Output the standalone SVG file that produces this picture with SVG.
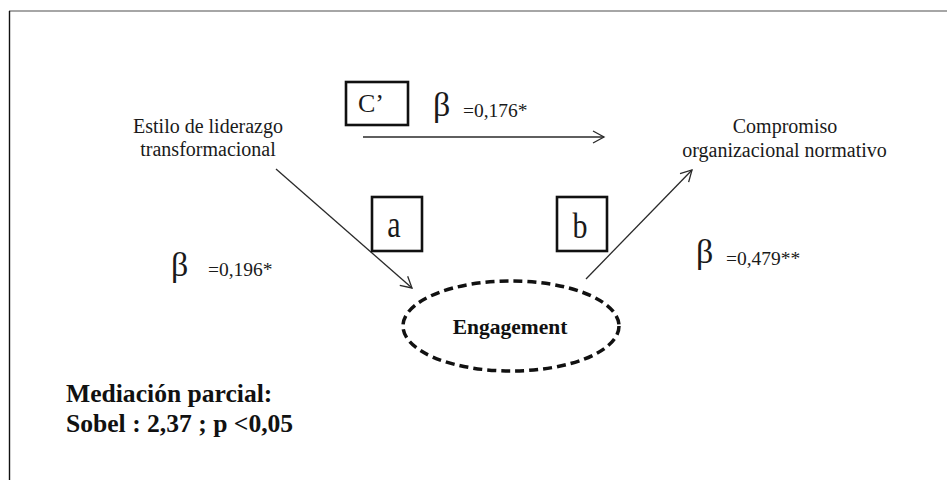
<svg xmlns="http://www.w3.org/2000/svg" width="947" height="480" viewBox="0 0 947 480">
<style>
.lbl{font-family:"Liberation Serif","Times New Roman",serif;fill:#1a1a1a;font-size:20px}
.bold{font-family:"Liberation Serif","Times New Roman",serif;font-weight:bold;fill:#111}
.beta{font-family:"Liberation Serif","Times New Roman",serif;font-size:34px;fill:#1a1a1a}
.val{font-family:"Liberation Serif","Times New Roman",serif;font-size:19.5px;fill:#1a1a1a}
.box{fill:none;stroke:#111;stroke-width:2.6}
.conn{fill:none;stroke:#2a2a2a;stroke-width:1.3}
.boxtxt{font-family:"Liberation Serif","Times New Roman",serif;fill:#1a1a1a;text-anchor:middle}
</style>
<defs>
<marker id="arr" viewBox="-13 -8 15 16" refX="0" refY="0" markerWidth="15" markerHeight="16" markerUnits="userSpaceOnUse" orient="auto">
<path d="M-11,-6 L0,0 L-11,6" fill="none" stroke="#2a2a2a" stroke-width="1.3"/>
</marker>
</defs>
<rect x="0" y="0" width="947" height="480" fill="#fff"/>
<g id="frame">
<line x1="9" y1="11" x2="947" y2="11" stroke="#888" stroke-width="1.6"/>
<line x1="9.5" y1="11" x2="9.5" y2="480" stroke="#111" stroke-width="1.4"/>
</g>
<g id="connectors">
<path class="conn" d="M363,137 L604,137" marker-end="url(#arr)"/>
<path class="conn" d="M276,169 L412,288" marker-end="url(#arr)"/>
<path class="conn" d="M586,279 L692,170" marker-end="url(#arr)"/>
</g>
<g id="node-estilo">
<text class="lbl" x="208" y="133" text-anchor="middle">Estilo de liderazgo</text>
<text class="lbl" x="208" y="156" text-anchor="middle">transformacional</text>
</g>
<g id="node-compromiso">
<text class="lbl" x="785" y="133" text-anchor="middle">Compromiso</text>
<text class="lbl" x="784.5" y="157" text-anchor="middle">organizacional normativo</text>
</g>
<g id="node-engagement">
<ellipse cx="511" cy="326" rx="108" ry="45" fill="none" stroke="#111" stroke-width="3.5" stroke-dasharray="9 5"/>
<text class="bold" x="510" y="334" font-size="21.5" text-anchor="middle">Engagement</text>
</g>
<g id="label-c">
<rect class="box" x="346" y="82" width="62" height="43"/>
<text class="boxtxt" x="371" y="112" font-size="26">C’</text>
<text class="beta" x="433" y="116">β</text>
<text class="val" x="463" y="117">=0,176*</text>
</g>
<g id="label-a">
<rect class="box" x="372" y="197" width="50" height="54"/>
<text class="boxtxt" transform="translate(394,237) scale(1,1.28)" font-size="30">a</text>
<text class="beta" x="171" y="276">β</text>
<text class="val" x="208" y="276">=0,196*</text>
</g>
<g id="label-b">
<rect class="box" x="557" y="197" width="50" height="54"/>
<text class="boxtxt" transform="translate(580,238) scale(1,1.22)" font-size="30">b</text>
<text class="beta" x="696" y="263">β</text>
<text class="val" x="726" y="265">=0,479**</text>
</g>
<g id="note">
<text class="bold" x="66" y="402" font-size="25.6">Mediación parcial:</text>
<text class="bold" x="66" y="432" font-size="25.6">Sobel : 2,37 ; p &lt;0,05</text>
</g>
</svg>
